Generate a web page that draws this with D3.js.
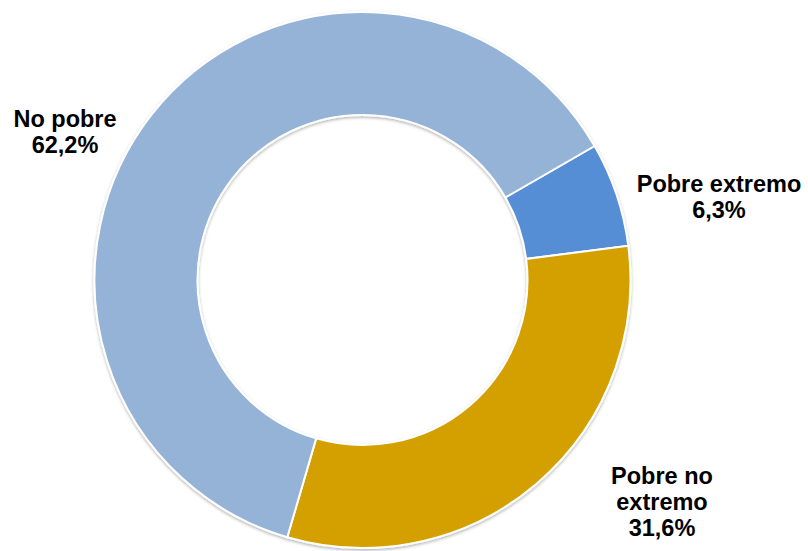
<!DOCTYPE html>
<html>
<head>
<meta charset="utf-8">
<script src="https://cdn.jsdelivr.net/npm/d3@7"></script>
<style>
  body { margin: 0; background: #fff; }
  .lbl { font-family: "Liberation Sans", Arial, sans-serif; font-weight: bold; font-size: 23.5px; fill: #000; }
</style>
</head>
<body>
<div id="chart"></div>
<script>
// data
var categories = ["Pobre extremo", "Pobre no extremo", "No pobre"];
var values = [6.3, 31.6, 62.2];
var labels = ["6,3%", "31,6%", "62,2%"];
var colors = ["#558ED5", "#D4A000", "#95B3D7"];

var width = 808, height = 551;
var cx = 362.5, cy = 280;
var outerR = 268, innerR = 165;

var svg = d3.select("#chart").append("svg")
  .attr("width", width)
  .attr("height", height);

// soft shadow under the ring
var defs = svg.append("defs");
var f = defs.append("filter").attr("id", "shadow")
  .attr("x", "-10%").attr("y", "-10%").attr("width", "120%").attr("height", "120%");
f.append("feDropShadow").attr("dx", 0).attr("dy", 1.5).attr("stdDeviation", 1.5)
  .attr("flood-color", "#000").attr("flood-opacity", 0.3);

var g = svg.append("g")
  .attr("transform", "translate(" + cx + "," + cy + ")");

var a0 = 60 * Math.PI / 180;
var pie = d3.pie().sort(null)
  .startAngle(a0).endAngle(a0 + 2 * Math.PI)
  .value(function (d) { return d; });

var arc = d3.arc().innerRadius(innerR).outerRadius(outerR);

var arcs = pie(values);

g.append("g").attr("filter", "url(#shadow)")
  .selectAll("path")
  .data(arcs)
  .enter().append("path")
  .attr("d", arc)
  .attr("fill", function (d, i) { return colors[i]; })
  .attr("stroke", "#fff")
  .attr("stroke-width", 2);

// labels, placed outside the ring
var labelLines = [
  ["Pobre extremo", labels[0]],
  ["Pobre no", "extremo", labels[1]],
  ["No pobre", labels[2]]
];
var labelPos = [[719, 192], [662, 484], [65, 127]];
var lineH = 26;

labelLines.forEach(function (lines, i) {
  var t = svg.append("text")
    .attr("class", "lbl")
    .attr("text-anchor", "middle")
    .attr("x", labelPos[i][0])
    .attr("y", labelPos[i][1]);
  lines.forEach(function (s, j) {
    t.append("tspan")
      .attr("x", labelPos[i][0])
      .attr("dy", j === 0 ? 0 : lineH)
      .text(s);
  });
});
</script>
</body>
</html>
